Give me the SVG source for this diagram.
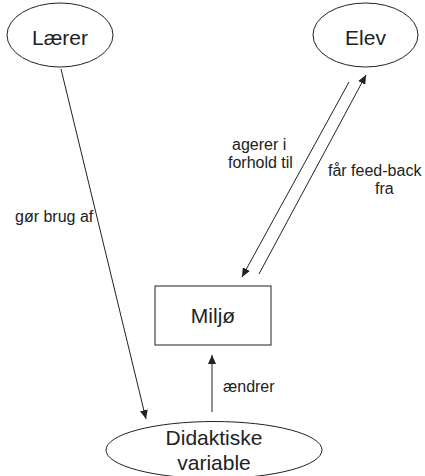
<svg xmlns="http://www.w3.org/2000/svg" width="425" height="476" viewBox="0 0 425 476">
<style>
.shape{fill:#fff;stroke:#222;stroke-width:1}
.lbl{font-family:"Liberation Sans",Arial,sans-serif;fill:#222}
.big{font-size:21px;text-anchor:middle}
.small{font-size:16px}
.conn{stroke:#222;stroke-width:1;fill:none;marker-end:url(#ah)}
</style>
<defs>
<marker id="ah" markerUnits="userSpaceOnUse" markerWidth="10" markerHeight="8" refX="9" refY="4" orient="auto">
<path d="M0,0 L9,4 L0,8 Z" fill="#222"/>
</marker>
</defs>
<rect width="425" height="476" fill="#fff"/>
<g id="connectors">
<line class="conn" x1="61" y1="69" x2="146" y2="419"/>
<line class="conn" x1="349" y1="82" x2="242" y2="277"/>
<line class="conn" x1="259" y1="274" x2="366" y2="75"/>
<line class="conn" x1="212" y1="412" x2="212" y2="355"/>
<text class="lbl small" x="15" y="222">gør brug af</text>
<text class="lbl small" x="232" y="150">agerer i</text>
<text class="lbl small" x="228" y="168">forhold til</text>
<text class="lbl small" x="328" y="176">får feed-back</text>
<text class="lbl small" x="375" y="194">fra</text>
<text class="lbl small" x="223" y="392">ændrer</text>
</g>
<g id="laerer">
<ellipse class="shape" cx="60" cy="35" rx="53" ry="32"/>
<text class="lbl big" x="60" y="45">Lærer</text>
</g>
<g id="elev">
<ellipse class="shape" cx="365.5" cy="35" rx="52.5" ry="32"/>
<text class="lbl big" x="365.5" y="45">Elev</text>
</g>
<g id="miljo">
<rect class="shape" x="155" y="286" width="116" height="59"/>
<text class="lbl big" x="213" y="323">Miljø</text>
</g>
<g id="didaktiske">
<ellipse class="shape" cx="214" cy="450" rx="108" ry="28.5"/>
<text class="lbl big" x="214" y="445">Didaktiske</text>
<text class="lbl big" x="214" y="470">variable</text>
</g>
</svg>
